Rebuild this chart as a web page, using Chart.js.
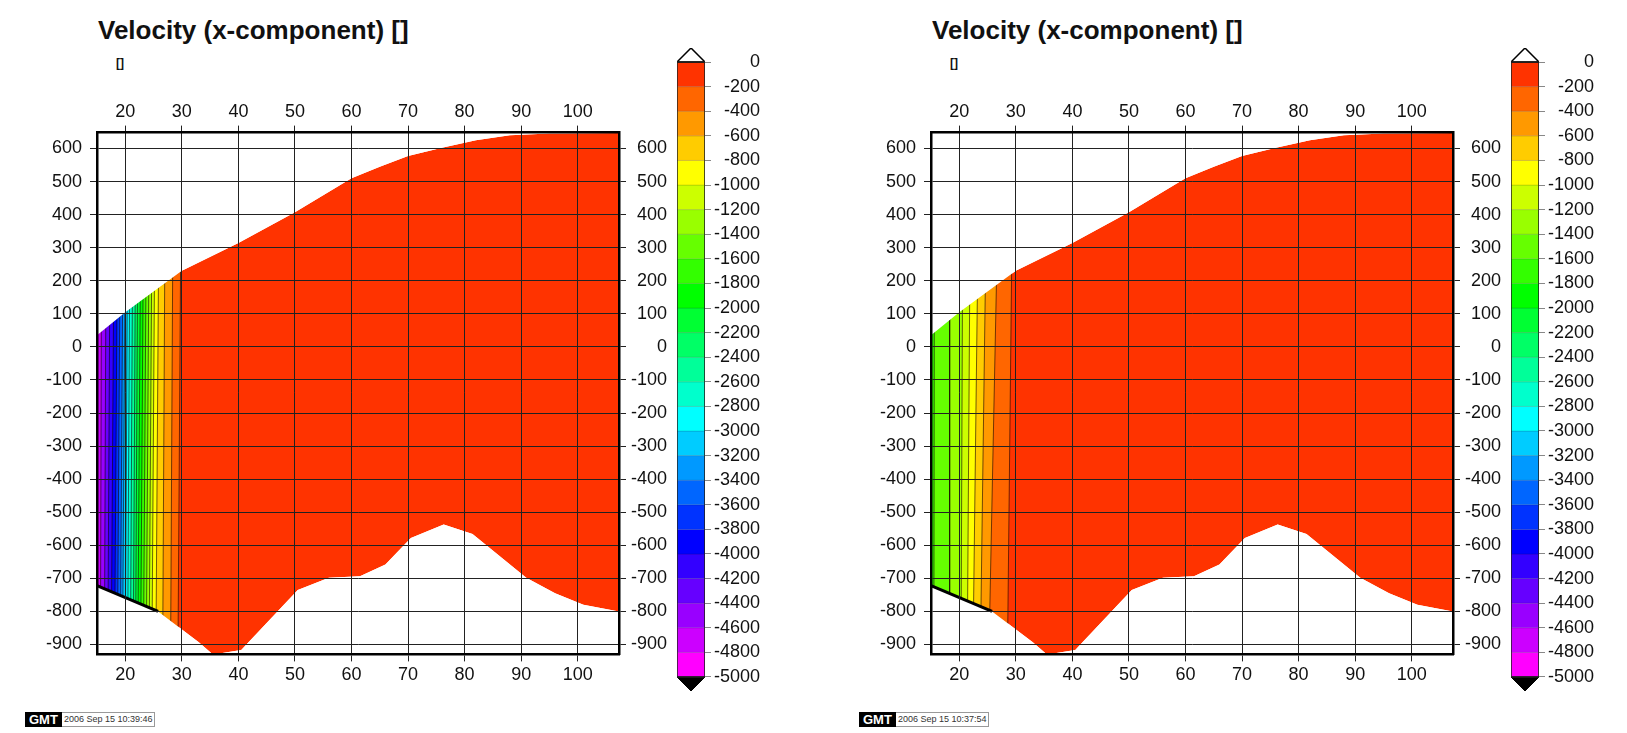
<!DOCTYPE html>
<html><head><meta charset="utf-8">
<script src="https://cdn.jsdelivr.net/npm/chart.js@4/dist/chart.umd.min.js"></script>
<style>
html,body{margin:0;padding:0;background:#fff;width:1627px;height:733px;overflow:hidden;font-family:"Liberation Sans",Arial,sans-serif;}
.abs{position:absolute;white-space:nowrap;}
.title{font-weight:bold;font-size:26px;line-height:26px;color:#111;}
.unit{font-weight:bold;font-size:12px;line-height:12px;color:#111;}
.stamp{display:flex;height:15px;line-height:15px;}
.stamp .g{background:#000;color:#fff;font-weight:bold;font-size:13px;padding:0 4px;}
.stamp .d{border:1px solid #999;border-left:none;padding:0 2px;color:#333;font-size:9px;height:13px;line-height:13px;}
canvas{position:absolute;}
</style></head><body>
<script>
// ---------- data ----------
const xTicks=[20,30,40,50,60,70,80,90,100];
const yTicks=[600,500,400,300,200,100,0,-100,-200,-300,-400,-500,-600,-700,-800,-900];
const cbTicks=[0,-200,-400,-600,-800,-1000,-1200,-1400,-1600,-1800,-2000,-2200,-2400,-2600,-2800,-3000,-3200,-3400,-3600,-3800,-4000,-4200,-4400,-4600,-4800,-5000];
const topBoundaryX=[15,20,30,40,50,60,65,70,76,82,88,95,107.3];
const topBoundaryY=[35,105,230,314,407,510,545,577,602,625,640,645,647];
const bottomBoundaryX=[15,25.8,28.5,33,35.5,40.5,50.5,56,61.5,66,70.5,76.3,81.4,90.9,96,101,107.3];
const bottomBoundaryY=[-722,-800,-835,-893,-930,-917,-735,-698,-694,-658,-578,-537,-566,-698,-745,-780,-800];
const contourLevelsA=[-200,-400,-600,-800,-1000,-1200,-1400,-1600,-1800,-2000,-2200,-2400,-2600,-2800,-3000,-3200,-3400,-3600,-3800,-4000,-4200,-4400,-4600];
const contourTopXA=[29.8,28.4,27.0,25.9,25.2,24.7,24.2,23.7,23.2,22.7,22.2,21.8,21.3,20.8,20.4,20.0,19.6,19.1,18.6,18.0,17.3,16.6,15.8];
const contourBotXA=[29.3,28.0,26.6,25.4,24.7,24.2,23.7,23.2,22.7,22.2,21.8,21.4,20.9,20.4,20.0,19.5,19.1,18.6,18.1,17.5,16.9,16.3,15.6];
const contourLevelsB=[-200,-400,-600,-800,-1000,-1200,-1400,-1600];
const contourTopXB=[29.3,26.7,24.7,23.3,21.9,20.6,18.3,15.6];
const contourBotXB=[28.5,25.2,23.7,22.4,21.4,20.3,18.3,15.5];
const stampTimes=['2006 Sep 15 10:39:46','2006 Sep 15 10:37:54'];
const titleText='Velocity (x-component) []';
const unitText='[]';

// ---------- style ----------
const palette=['#ff3300','#ff6600','#ff9900','#ffcc00','#ffff00','#ccff00','#99ff00','#66ff00','#33ff00','#00ff00','#00ff33','#00ff66','#00ff99','#00ffcc','#00ffff','#00ccff','#0099ff','#0066ff','#0033ff','#0000ff','#3300ff','#6600ff','#9900ff','#cc00ff','#ff00ff'];
const FONT='"Liberation Sans", Arial, sans-serif';
Chart.defaults.font.family=FONT;
Chart.defaults.font.size=18;
Chart.defaults.color='#111';

const pts=(xs,ys)=>xs.map((x,i)=>({x:x,y:ys[i]}));
function poly(data,color,order,extra){
  return Object.assign({type:'line',data:data,order:order,fill:'shape',backgroundColor:color,
    borderColor:'rgba(0,0,0,0)',borderWidth:0,pointRadius:0,pointHoverRadius:0,tension:0},extra||{});
}
function stroke(data,color,width,order){
  return {type:'line',data:data,order:order,fill:false,borderColor:color,borderWidth:width,
    pointRadius:0,pointHoverRadius:0,tension:0};
}
const numFmt=v=>String(v);
function setTicks(list){return function(scale){scale.ticks=list.map(v=>({value:v}));};}
function fixW(w){return function(s){s.width=w;};}
function fixH(h){return function(s){s.height=h;};}

function makeCanvas(left,top,w,h){
  const c=document.createElement('canvas');
  c.width=w;c.height=h;c.style.left=left+'px';c.style.top=top+'px';
  c.style.width=w+'px';c.style.height=h+'px';
  document.body.appendChild(c);return c;
}
function addText(cls,txt,left,top){
  const d=document.createElement('div');d.className='abs '+cls;d.textContent=txt;
  d.style.left=left+'px';d.style.top=top+'px';document.body.appendChild(d);return d;
}

const XMIN=15,XMAX=107.3,YMIN=-930,YMAX=648;
function mainChart(off,levels,topX,botX){
  const ds=[];
  const domain=pts(topBoundaryX,topBoundaryY).concat(pts(bottomBoundaryX,bottomBoundaryY).reverse());
  ds.push(poly(domain,palette[0],5000));
  const Y0=300,Y1=-960,XL=13;
  for(let k=0;k<levels.length;k++){
    const ci=-levels[k]/200;
    ds.push(poly([{x:XL,y:Y0},{x:topX[k],y:Y0},{x:botX[k],y:Y1},{x:XL,y:Y1}],palette[ci],4000-k));
    ds.push(stroke([{x:topX[k],y:Y0},{x:botX[k],y:Y1}],'rgba(20,0,0,0.6)',1,3000));
  }
  const nT=topBoundaryX.length,nB=bottomBoundaryX.length;
  const topMask=[{x:110,y:760},{x:XL,y:760},{x:XL,y:topBoundaryY[0]}]
    .concat(pts(topBoundaryX,topBoundaryY)).concat([{x:110,y:topBoundaryY[nT-1]}]);
  const botMask=[{x:110,y:-1050},{x:XL,y:-1050},{x:XL,y:bottomBoundaryY[0]}]
    .concat(pts(bottomBoundaryX,bottomBoundaryY)).concat([{x:110,y:bottomBoundaryY[nB-1]}]);
  ds.push(poly(topMask,'#ffffff',2000));
  ds.push(poly(botMask,'#ffffff',2000));
  const edge=[];for(let i=0;i<nB&&bottomBoundaryX[i]<=25.8;i++)edge.push({x:bottomBoundaryX[i],y:bottomBoundaryY[i]});
  ds.push(stroke(edge,'#000',3,1000));

  const gridMain={color:'#222',lineWidth:1,tickLength:7,tickColor:'#222',z:1};
  const gridSide={drawOnChartArea:false,color:'#222',lineWidth:1,tickLength:7,tickColor:'#222',z:1};
  const border={display:true,color:'#000',width:2.5,z:2};
  const c=makeCanvas(30+off,90,660,620);
  new Chart(c,{
    type:'line',
    data:{datasets:ds},
    options:{
      responsive:false,animation:false,devicePixelRatio:1,
      layout:{padding:{left:16,right:23,top:11,bottom:24}},
      plugins:{legend:{display:false},tooltip:{enabled:false}},
      scales:{
        x:{type:'linear',position:'bottom',min:XMIN,max:XMAX,afterBuildTicks:setTicks(xTicks),afterFit:fixH(31.6),
           grid:gridMain,border:border,ticks:{padding:3,callback:numFmt,maxRotation:0,color:'#111'}},
        x2:{type:'linear',position:'top',min:XMIN,max:XMAX,afterBuildTicks:setTicks(xTicks),afterFit:fixH(31.6),
           grid:gridSide,border:border,ticks:{padding:3,callback:numFmt,maxRotation:0,color:'#111'}},
        y:{type:'linear',position:'left',min:YMIN,max:YMAX,afterBuildTicks:setTicks(yTicks),afterFit:fixW(51),
           grid:gridMain,border:border,ticks:{padding:8,callback:numFmt,color:'#111'}},
        y2:{type:'linear',position:'right',min:YMIN,max:YMAX,afterBuildTicks:setTicks(yTicks),afterFit:fixW(48),
           grid:gridSide,border:border,ticks:{padding:5,callback:numFmt,crossAlign:'far',color:'#111'}}
      }
    }
  });
}

function colorbar(off){
  const ds=[];
  const tri=114;
  for(let i=0;i<palette.length;i++){
    const hi=cbTicks[i],lo=cbTicks[i+1];
    ds.push(poly([{x:0,y:hi},{x:1,y:hi},{x:1,y:lo},{x:0,y:lo}],palette[i],100,{borderColor:'rgba(0,0,0,0.12)',borderWidth:1}));
  }
  const top=cbTicks[0],bot=cbTicks[cbTicks.length-1];
  ds.push(poly([{x:0,y:top},{x:1,y:top},{x:0.5,y:top+tri},{x:0,y:top}],'#ffffff',50,{borderColor:'#000',borderWidth:1.5}));
  ds.push(poly([{x:0,y:bot},{x:1,y:bot},{x:0.5,y:bot-tri},{x:0,y:bot}],'#000000',50,{borderColor:'#000',borderWidth:1}));
  ds.push(stroke([{x:0,y:top},{x:1,y:top},{x:1,y:bot},{x:0,y:bot},{x:0,y:top}],'#222',1.5,10));
  const c=makeCanvas(660+off,20,120,700);
  new Chart(c,{
    type:'line',
    data:{datasets:ds},
    options:{
      responsive:false,animation:false,devicePixelRatio:1,
      layout:{padding:{left:17,right:20,top:28,bottom:29}},
      plugins:{legend:{display:false},tooltip:{enabled:false}},
      scales:{
        x:{type:'linear',min:0,max:1,display:false},
        y:{type:'linear',position:'right',min:bot-tri,max:top+tri,afterBuildTicks:setTicks(cbTicks),afterFit:fixW(55),
           grid:{drawOnChartArea:false,tickLength:6,tickColor:'#888',color:'#888'},border:{display:false},
           ticks:{padding:3,callback:numFmt,crossAlign:'far',color:'#111'}}
      }
    }
  });
}

const OFF2=834;
[[0,contourLevelsA,contourTopXA,contourBotXA,stampTimes[0]],[OFF2,contourLevelsB,contourTopXB,contourBotXB,stampTimes[1]]].forEach(p=>{
  const off=p[0];
  mainChart(off,p[1],p[2],p[3]);
  colorbar(off);
  addText('title',titleText,98+off,17);
  addText('unit',unitText,116+off,57);
  const s=document.createElement('div');s.className='abs stamp';s.style.left=(25+off)+'px';s.style.top='712px';
  s.innerHTML='<span class="g">GMT</span><span class="d"></span>';
  s.querySelector('.d').textContent=p[4];
  document.body.appendChild(s);
});
</script>
</body></html>
